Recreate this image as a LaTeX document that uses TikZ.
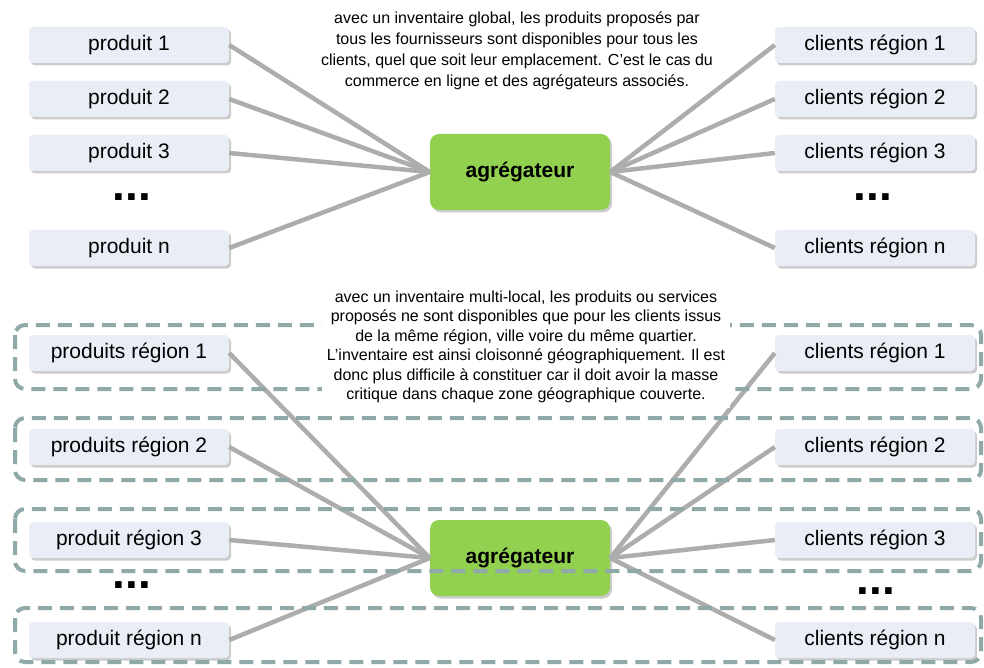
\documentclass[tikz,border=0pt]{standalone}
\usepackage{fontspec}
\setmainfont{Liberation Sans}
\usetikzlibrary{shadows}
\definecolor{boxfill}{RGB}{233,238,246}
\definecolor{agggreen}{RGB}{146,208,80}
\definecolor{linkgray}{RGB}{173,173,173}
\definecolor{bandteal}{RGB}{143,168,168}
\begin{document}
\begin{tikzpicture}[x=1pt,y=-1pt,
  item/.style={fill=boxfill,rounded corners=4pt,minimum width=200pt,minimum height=36pt,inner sep=0pt,
    font=\fontsize{21}{25}\selectfont,drop shadow={shadow xshift=2pt,shadow yshift=-2.5pt,opacity=0.4}},
  hub/.style={fill=agggreen,rounded corners=9pt,minimum width=180pt,minimum height=76pt,inner sep=0pt,
    font=\fontsize{21}{25}\selectfont\bfseries,drop shadow={shadow xshift=2pt,shadow yshift=-2.5pt,opacity=0.4}},
  more/.style={font=\fontsize{46}{46}\selectfont\bfseries,inner sep=0pt},
  link/.style={draw=linkgray,line width=4.5pt},
  band/.style={draw=bandteal,line width=4pt,rounded corners=10pt,dash pattern=on 14pt off 8pt},
  note/.style={align=center,inner sep=5pt}]
\useasboundingbox (0,0) rectangle (984,668);
% inventaire global
\node[item] (p1) at (129,45) {produit 1};
\node[item] (p2) at (129,99) {produit 2};
\node[item] (p3) at (129,153) {produit 3};
\node[more] (pdots) at (132,197) {...};
\node[item] (pn) at (129,248) {produit n};
\node[item] (c1) at (875,45) {clients région 1};
\node[item] (c2) at (875,99) {clients région 2};
\node[item] (c3) at (875,153) {clients région 3};
\node[more] (cdots) at (873,197) {...};
\node[item] (cn) at (875,248) {clients région n};
\node[hub] (agg) at (520,172) {agrégateur};
\draw[link] (p1.east) -- (agg.west);
\draw[link] (p2.east) -- (agg.west);
\draw[link] (p3.east) -- (agg.west);
\draw[link] (pn.east) -- (agg.west);
\draw[link] (agg.east) -- (c1.west);
\draw[link] (agg.east) -- (c2.west);
\draw[link] (agg.east) -- (c3.west);
\draw[link] (agg.east) -- (cn.west);
\node[note,font=\fontsize{16}{21}\selectfont] (globaltxt) at (517,51)
  {avec un inventaire global, les produits proposés par\\tous les fournisseurs sont disponibles pour tous les\\clients, quel que soit leur emplacement. C’est le cas du\\commerce en ligne et des agrégateurs associés.};
% inventaire multi-local
\node[item] (rp1) at (129,353) {produits région 1};
\node[item] (rp2) at (129,447) {produits région 2};
\node[item] (rp3) at (129,540) {produit région 3};
\node[more] (rpdots) at (132,585) {...};
\node[item] (rpn) at (129,640) {produit région n};
\node[item] (rc1) at (875,353) {clients région 1};
\node[item] (rc2) at (875,447) {clients région 2};
\node[item] (rc3) at (875,540) {clients région 3};
\node[more] (rcdots) at (876,591) {...};
\node[item] (rcn) at (875,640) {clients région n};
\node[hub] (agg2) at (520,558) {agrégateur};
\draw[link] (rp1.east) -- (agg2.west);
\draw[link] (rp2.east) -- (agg2.west);
\draw[link] (rp3.east) -- (agg2.west);
\draw[link] (rpn.east) -- (agg2.west);
\draw[link] (agg2.east) -- (rc1.west);
\draw[link] (agg2.east) -- (rc2.west);
\draw[link] (agg2.east) -- (rc3.west);
\draw[link] (agg2.east) -- (rcn.west);
\draw[band] (15,325) rectangle (981,389);
\draw[band] (15,418) rectangle (981,480);
\draw[band] (15,509) rectangle (981,571);
\draw[band] (15,608) rectangle (981,662);
\node[note,fill=white,font=\fontsize{16}{19.5}\selectfont] (localtxt) at (526,347)
  {avec un inventaire multi-local, les produits ou services\\proposés ne sont disponibles que pour les clients issus\\de la même région, ville voire du même quartier.\\L’inventaire est ainsi cloisonné géographiquement. Il est\\donc plus difficile à constituer car il doit avoir la masse\\critique dans chaque zone géographique couverte.};
\end{tikzpicture}
\end{document}
